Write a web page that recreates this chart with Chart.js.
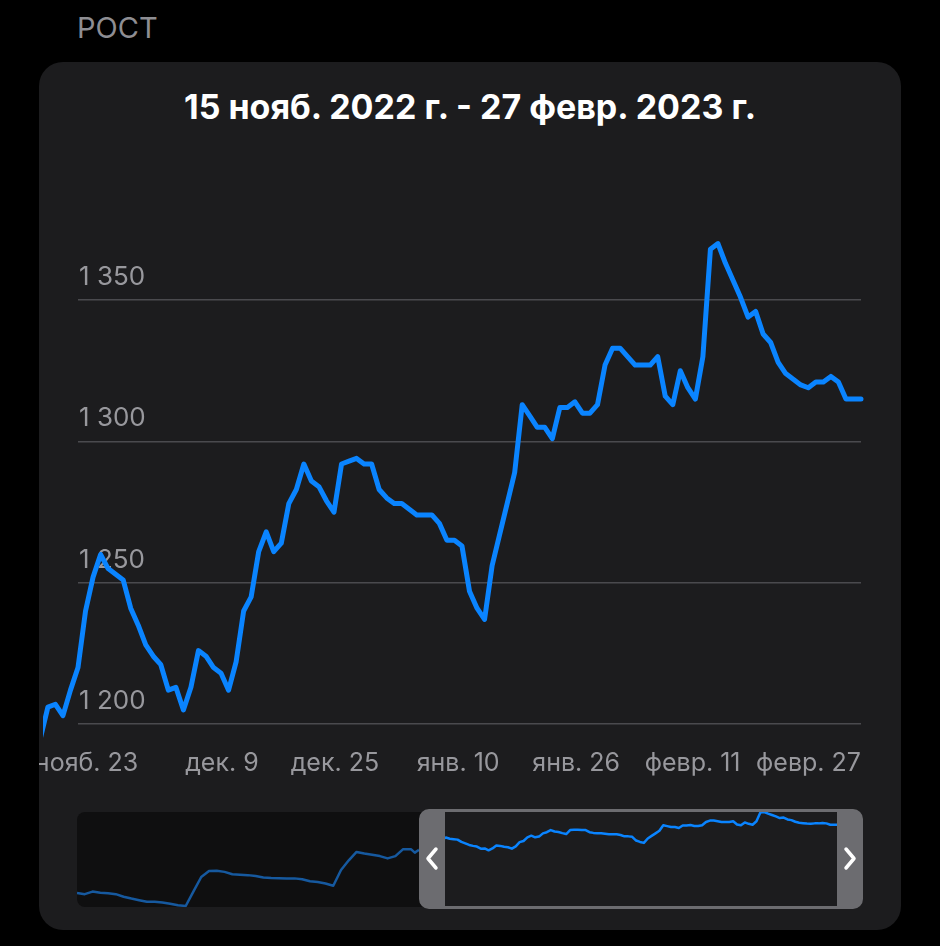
<!DOCTYPE html>
<html>
<head>
<meta charset="utf-8">
<script src="https://cdn.jsdelivr.net/npm/chart.js@4.4.1/dist/chart.umd.min.js"></script>
<style>
html,body{margin:0;padding:0;background:#000;}
body{width:940px;height:946px;position:relative;overflow:hidden;font-family:Inter,"Noto Sans",sans-serif;}
#section{position:absolute;left:77px;top:13px;font-size:29px;color:#8e8e93;line-height:30px;}
#card{position:absolute;left:39px;top:62px;width:862px;height:868px;border-radius:24px;background:#1c1c1e;overflow:hidden;}
#title{position:absolute;left:0;width:862px;top:27px;text-align:center;color:#fff;font-weight:700;font-size:34px;line-height:36px;}
#mainWrap{position:absolute;left:-39px;top:78px;width:940px;height:660px;}
#miniBg{position:absolute;left:38px;top:750px;width:360px;height:95px;background:#0f0f10;border-radius:8px 0 0 8px;}
#miniWrap{position:absolute;left:38px;top:743px;width:785px;height:107px;}
#sel{position:absolute;left:380px;top:747px;width:444px;height:100px;box-sizing:border-box;border:3px solid #6c6c70;border-left-width:26px;border-right-width:26px;border-radius:10px;}
#chev{position:absolute;left:0;top:0;}
</style>
</head>
<body>
<div id="section">РОСТ</div>
<div id="card">
  <div id="title">15 нояб. 2022 г. - 27 февр. 2023 г.</div>
  <div id="mainWrap"><canvas id="main" width="940" height="660"></canvas></div>
  <div id="miniBg"></div>
  <div id="miniWrap"><canvas id="mini" width="785" height="107"></canvas></div>
  <div id="sel"></div>
  <svg id="chev" width="862" height="868">
    <polyline points="397,787 389,796.5 397,806" fill="none" stroke="#fff" stroke-width="3.5" stroke-linecap="round" stroke-linejoin="round"/>
    <polyline points="807,787 815,796.5 807,806" fill="none" stroke="#fff" stroke-width="3.5" stroke-linecap="round" stroke-linejoin="round"/>
  </svg>
</div>
<script>
// ---- data (day index 0 = 15 Nov 2022) ----
const xTickDays = [8, 24, 40, 56, 72, 88, 104];
const xTickLabels = ['нояб. 23', 'дек. 9', 'дек. 25', 'янв. 10', 'янв. 26', 'февр. 11', 'февр. 27'];
const yTickValues = [1200, 1250, 1300, 1350];
const yTickLabels = ['1 200', '1 250', '1 300', '1 350'];
const viewStartDay = 0;
const viewEndDay = 104;
const mainFirstDay = -5;
const mainValues = [
  1195, 1206, 1207, 1203, 1212, 1220, 1240, 1252, 1260, 1255,
  1253, 1251, 1241, 1235, 1228, 1224, 1221, 1212, 1213, 1205,
  1213, 1226, 1224, 1220, 1218, 1212, 1222, 1240, 1245, 1261,
  1268, 1261, 1264, 1278, 1283, 1292, 1286, 1284, 1279, 1275,
  1292, 1293, 1294, 1292, 1292, 1283, 1280, 1278, 1278, 1276,
  1274, 1274, 1274, 1271, 1265, 1265, 1263, 1247, 1241, 1237,
  1256, 1267, 1278, 1289, 1313, 1309, 1305, 1305, 1301, 1312,
  1312, 1314, 1310, 1310, 1313, 1327, 1333, 1333, 1330, 1327,
  1327, 1327, 1330, 1316, 1313, 1325, 1319, 1315, 1330, 1368,
  1370, 1363, 1357, 1351, 1344, 1346, 1338, 1335, 1328, 1324,
  1322, 1320, 1319, 1321, 1321, 1323, 1321, 1315, 1315, 1315
];
// overview (navigator) earlier history, every 2 days
const overviewFirstDay = -92;
const overviewStep = 2;
const overviewEarlyValues = [
  1021, 1016, 1027, 1022, 1020, 1016, 1005, 997, 990, 983,
  983, 980, 975, 968, 965, 1028, 1090, 1116, 1117, 1112,
  1102, 1100, 1098, 1094, 1088, 1086, 1085, 1084, 1084, 1080,
  1072, 1068, 1062, 1052, 1120, 1162, 1198, 1191, 1186, 1180,
  1170, 1180, 1210, 1210
];
const selectionStartDay = -4;

const BLUE = '#0a84ff';
const DIM_BLUE = '#16599f';
const LABEL = '#98989d';

const mainPoints = mainValues.map((v, i) => ({x: mainFirstDay + i, y: v}));

new Chart(document.getElementById('main'), {
  type: 'line',
  data: {datasets: [{
    data: mainPoints,
    borderColor: BLUE, borderWidth: 5, pointRadius: 0, tension: 0,
    borderJoinStyle: 'round', borderCapStyle: 'round',
    clip: {left: 35, right: 8, top: 60, bottom: 60}
  }]},
  options: {
    responsive: false, animation: false, devicePixelRatio: 1, events: [],
    layout: {padding: {left: 76, right: 79, top: 75.3, bottom: 11.8}},
    plugins: {legend: {display: false}, tooltip: {enabled: false}},
    scales: {
      x: {
        type: 'linear', bounds: 'data',
        afterBuildTicks: s => { s.min = viewStartDay; s.max = viewEndDay; s.ticks = xTickDays.map(v => ({value: v})); },
        grid: {display: false, drawTicks: false}, border: {display: false},
        ticks: {autoSkip: false, maxRotation: 0, minRotation: 0, align: 'end', padding: 10, color: LABEL,
          font: {family: 'Inter', size: 25}, callback: (v, i) => xTickLabels[i]}
      },
      y: {
        type: 'linear', min: 1195, max: 1380,
        afterBuildTicks: s => { s.ticks = yTickValues.map(v => ({value: v})); },
        grid: {color: '#4a4a4e', lineWidth: 1.5, drawTicks: false}, border: {display: false},
        ticks: {mirror: true, padding: 1, labelOffset: -23, color: LABEL,
          font: {family: 'Inter', size: 26}, callback: (v, i) => yTickLabels[i]}
      }
    }
  }
});

const overviewPoints = overviewEarlyValues.map((v, i) => ({x: overviewFirstDay + i * overviewStep, y: v})).concat(mainPoints);

new Chart(document.getElementById('mini'), {
  type: 'line',
  data: {datasets: [{
    data: overviewPoints,
    borderColor: BLUE, borderWidth: 2.5, pointRadius: 0, tension: 0,
    borderJoinStyle: 'round',
    segment: {borderColor: c => (c.p1.parsed.x <= selectionStartDay ? DIM_BLUE : BLUE)}
  }]},
  options: {
    responsive: false, animation: false, devicePixelRatio: 1, events: [],
    layout: {padding: {left: 0, right: 24, top: 7, bottom: 6}},
    plugins: {legend: {display: false}, tooltip: {enabled: false}},
    scales: {
      x: {type: 'linear', display: false, bounds: 'data'},
      y: {type: 'linear', display: false, bounds: 'data'}
    }
  }
});
</script>
</body>
</html>
